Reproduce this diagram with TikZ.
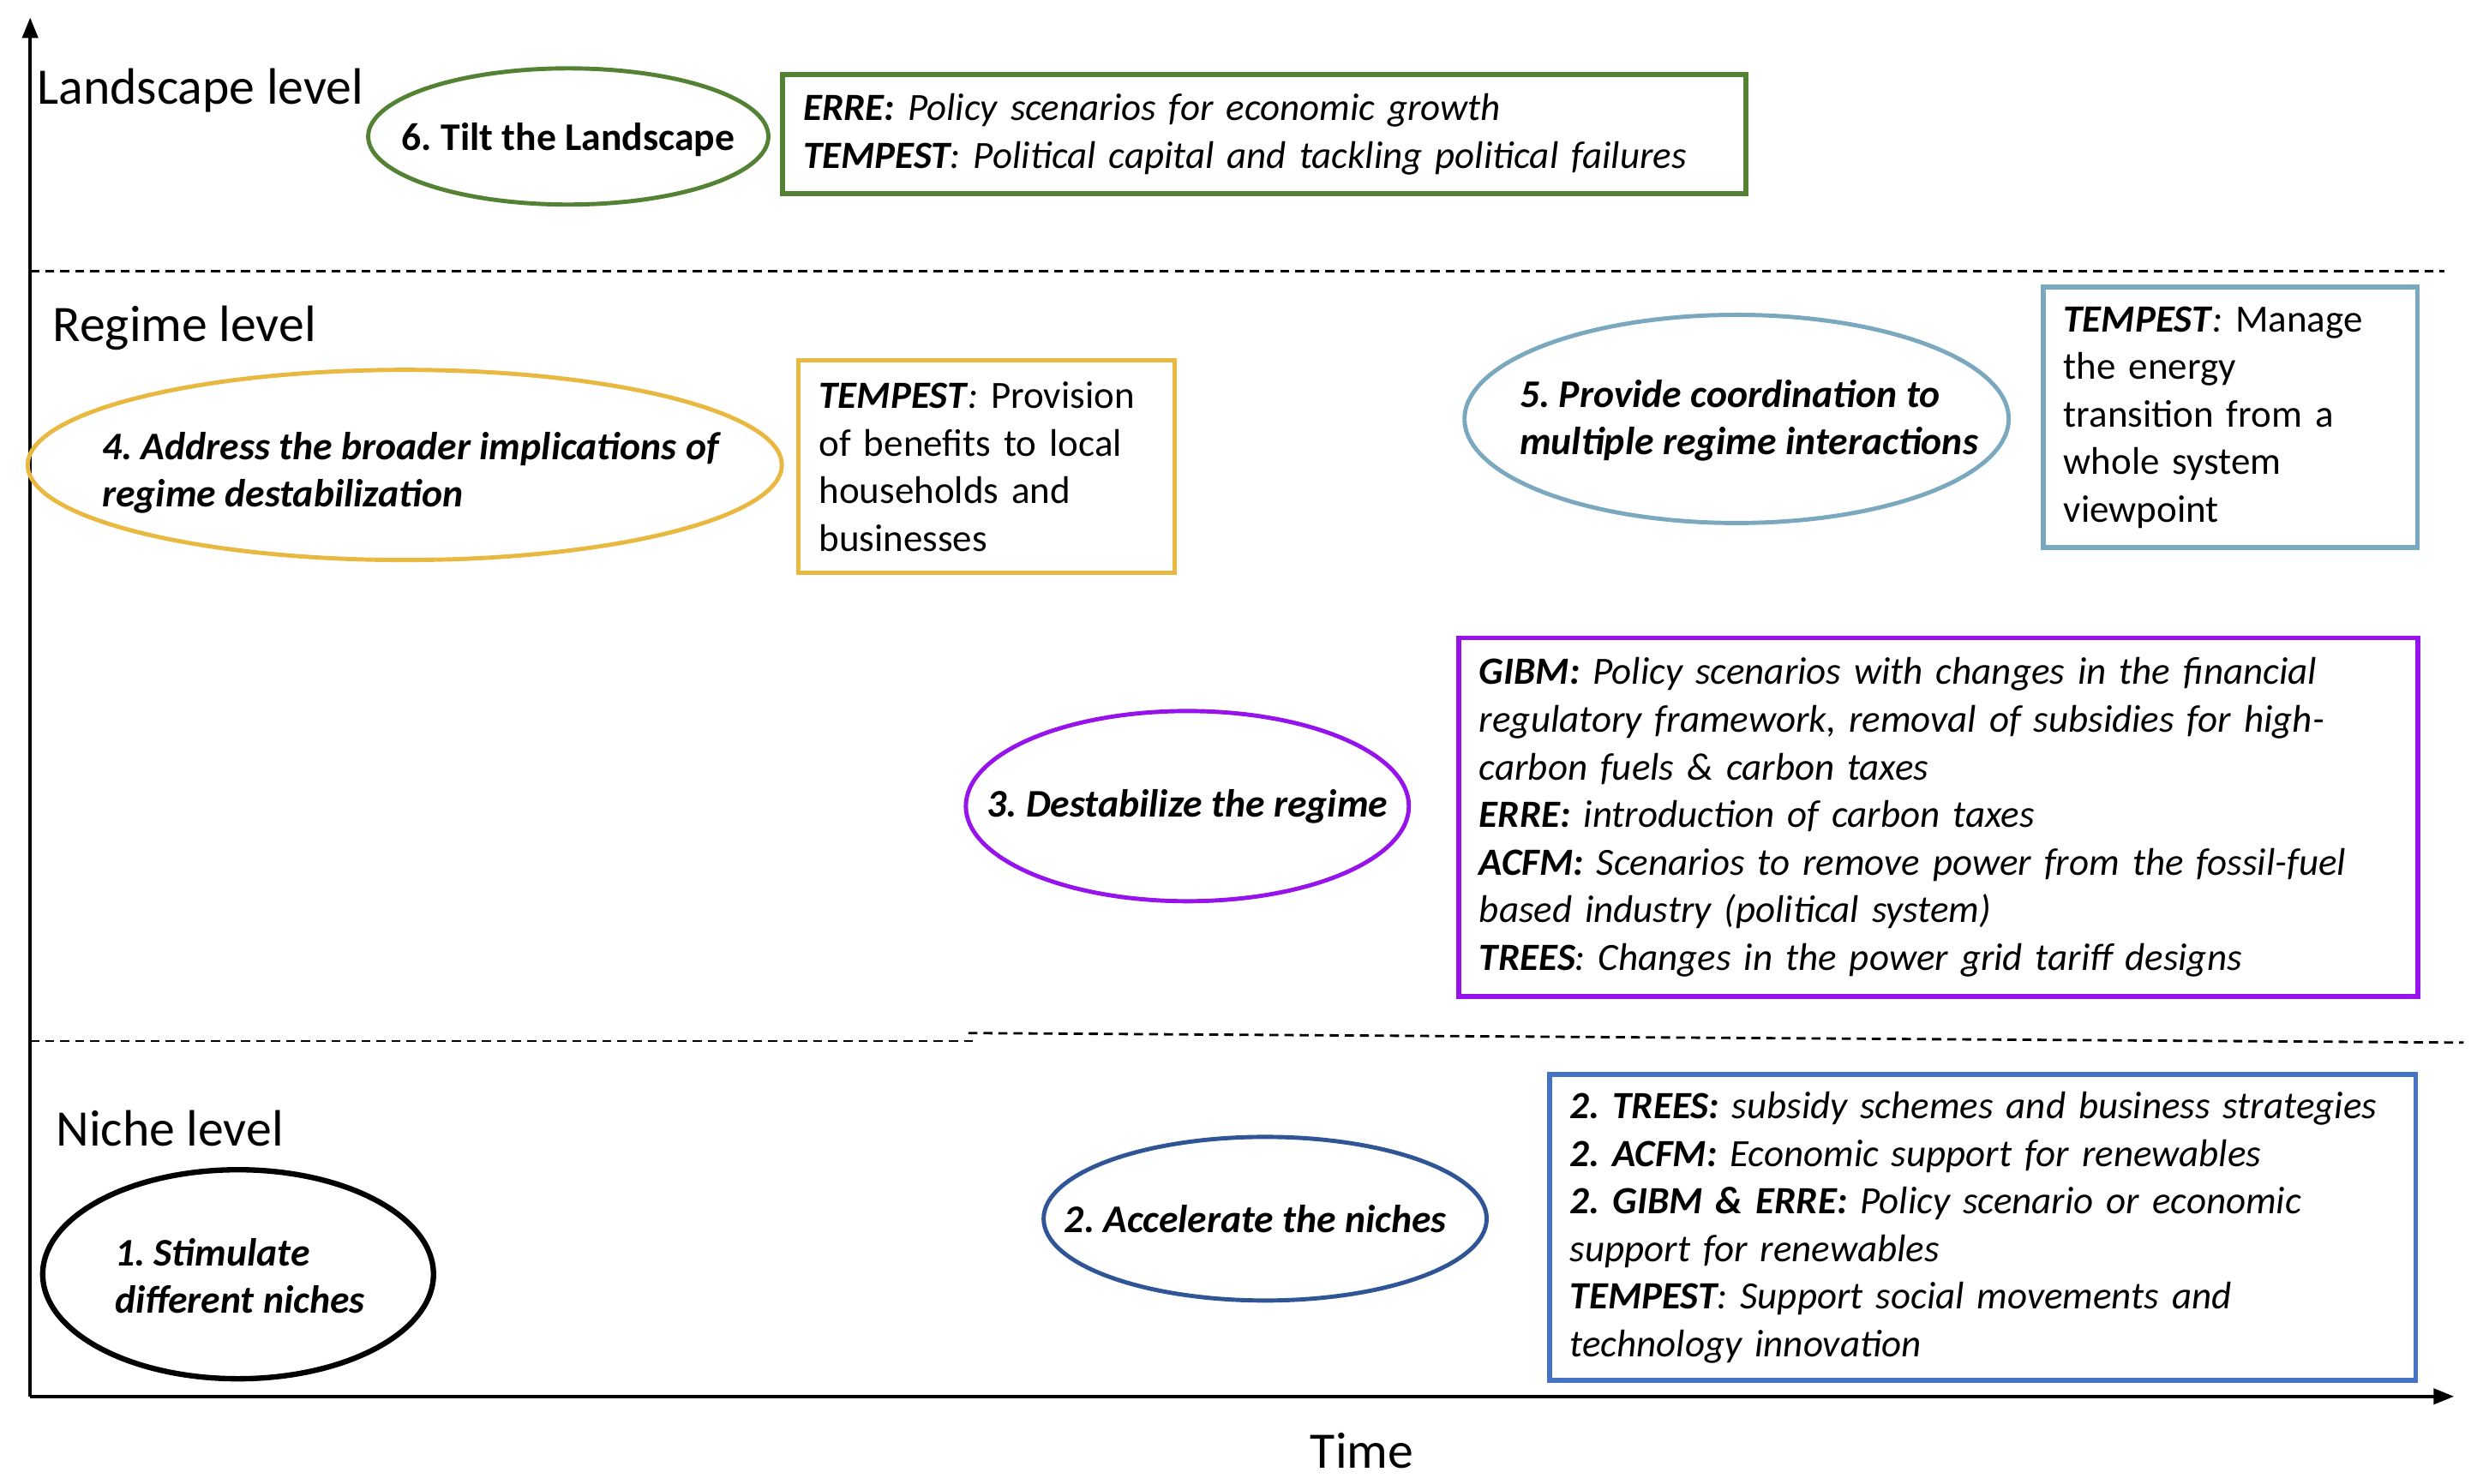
\documentclass[tikz,border=0pt]{standalone}
\usepackage{fontspec}
\setmainfont{Carlito}
\usetikzlibrary{shapes.geometric,arrows.meta}
\definecolor{landgreen}{RGB}{84,130,53}
\definecolor{regimegold}{RGB}{233,184,64}
\definecolor{coordblue}{RGB}{122,168,190}
\definecolor{destpurple}{RGB}{150,20,235}
\definecolor{nichenavy}{RGB}{47,85,151}
\definecolor{nicheblue}{RGB}{68,114,196}
\newcommand{\mdl}[1]{\textbf{\textit{#1}}}
\frenchspacing

\begin{document}
\begin{tikzpicture}[
    x=0.01852cm, y=-0.01852cm,
    axis/.style={-{Triangle[length=2.4mm,width=1.8mm]}, line width=1.2pt},
    sep/.style={dash pattern=on 3pt off 2pt, line width=0.8pt},
    level/.style={anchor=west, inner sep=0pt, font=\fontsize{17}{20}\selectfont},
    stage/.style={draw, ellipse, line width=1.4pt, inner sep=0pt},
    stagetxt/.style={align=left, inner sep=0pt, font=\fontsize{13}{15.8}\selectfont\bfseries\itshape},
    tool/.style={draw, line width=1.6pt, align=left, inner xsep=0.24cm, inner ysep=0pt,
                 font=\fontsize{12.8}{15.8}\selectfont}
]
    \useasboundingbox (0,0) rectangle (1568,935);

    % axes and level separators
    \coordinate (o)    at (19,880);
    \coordinate (ytop) at (19,11);
    \coordinate (xend) at (1546,880);
    \draw[axis] (o) -- (ytop);
    \draw[axis] (o) -- (xend);
    \coordinate (l1a) at (19,171);
    \coordinate (l1b) at (1540,171);
    \coordinate (l2a) at (19,656);
    \coordinate (l2b) at (614,656);
    \coordinate (l2c) at (610,651);
    \coordinate (l2d) at (1552,657);
    \draw[sep] (l1a) -- (l1b);
    \draw[sep] (l2a) -- (l2b);
    \draw[sep] (l2c) -- (l2d);

    \node[level] (land)  at (23,57)  {Landscape level};
    \node[level] (reg)   at (33,207) {Regime level};
    \node[level] (niche) at (35,711) {Niche level};
    \node[font=\fontsize{17}{20}\selectfont, inner sep=0pt] (time) at (858,914) {Time};

    % stages
    \node[stage, draw=landgreen,  minimum width=4.67cm, minimum height=1.59cm] (s6) at (358,86)  {};
    \node[stage, draw=regimegold, minimum width=8.80cm, minimum height=2.22cm] (s4) at (255,293) {};
    \node[stage, draw=coordblue,  minimum width=6.35cm, minimum height=2.43cm] (s5) at (1094,264) {};
    \node[stage, draw=destpurple, minimum width=5.17cm, minimum height=2.22cm] (s3) at (748,508) {};
    \node[stage, draw=nichenavy,  minimum width=5.17cm, minimum height=1.91cm] (s2) at (797,768) {};
    \node[stage, draw=black,      minimum width=4.56cm, minimum height=2.44cm, line width=1.8pt] (s1) at (150,803) {};

    \node[stagetxt, font=\fontsize{13}{15.8}\selectfont\bfseries] (s6t) at (358,88) {6. Tilt the Landscape};
    \node[stagetxt, anchor=west] (s4t) at (64,298)  {4. Address the broader implications of\\regime destabilization};
    \node[stagetxt, anchor=west] (s5t) at (957,265) {5. Provide coordination to\\multiple regime interactions};
    \node[stagetxt] (s3t) at (748,508) {3. Destabilize the regime};
    \node[stagetxt] (s2t) at (791,768) {2. Accelerate the niches};
    \node[stagetxt, anchor=west] (s1t) at (72,804)  {1. Stimulate\\different niches};

    % model boxes
    \node[tool, draw=landgreen, text width=10.76cm, minimum height=1.39cm] (b6) at (796.5,84.5)
        {\itshape\mdl{ERRE:} Policy scenarios for economic growth\\
         \mdl{TEMPEST}: Political capital and tackling political failures};
    \node[tool, draw=regimegold, text width=3.91cm, minimum height=2.48cm] (b4) at (621.5,294)
        {\mdl{TEMPEST}\textit{:} Provision\\of benefits to local\\households and\\businesses};
    \node[tool, draw=coordblue, text width=3.89cm, minimum height=3.04cm] (b5) at (1405,263)
        {\mdl{TEMPEST}\textit{:} Manage\\the energy\\transition from a\\whole system\\viewpoint};
    \node[tool, draw=destpurple, text width=10.71cm, minimum height=4.19cm] (b3) at (1221,515)
        {\itshape\mdl{GIBM:} Policy scenarios with changes in the financial\\
         regulatory framework, removal of subsidies for high-\\
         carbon fuels \& carbon taxes\\
         \mdl{ERRE:} introduction of carbon taxes\\
         \mdl{ACFM:} Scenarios to remove power from the fossil-fuel\\
         based industry (political system)\\
         \mdl{TREES}: Changes in the power grid tariff designs};
    \node[tool, draw=nicheblue, text width=9.63cm, minimum height=3.57cm] (b2) at (1249,773.5)
        {\itshape\mdl{2. TREES:} subsidy schemes and business strategies\\
         \mdl{2. ACFM:} Economic support for renewables\\
         \mdl{2. GIBM \& ERRE:} Policy scenario or economic\\
         support for renewables\\
         \mdl{TEMPEST}: Support social movements and\\
         technology innovation};
\end{tikzpicture}
\end{document}
